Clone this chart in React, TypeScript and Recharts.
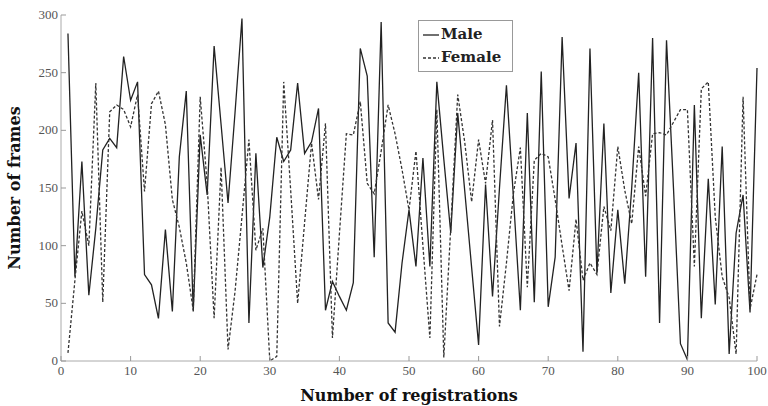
import { LineChart, Line, XAxis, YAxis } from "recharts";

const registrations = Array.from({ length: 100 }, (_, i) => i + 1);

const maleFrames = [
  284, 73, 173, 57, 115, 183, 193, 185, 264, 226,
  242, 75, 66, 37, 114, 43, 177, 234, 43, 196,
  144, 273, 205, 137, 215, 297, 33, 180, 81, 125,
  194, 173, 183, 241, 180, 190, 219, 44, 69, 56,
  44, 68, 271, 247, 90, 294, 33, 25, 85, 131,
  82, 176, 82, 242, 175, 111, 215, 148, 81, 14,
  153, 56, 150, 239, 142, 44, 215, 51, 251, 47,
  90, 281, 141, 189, 8, 271, 76, 206, 59, 131,
  67, 150, 250, 73, 280, 33, 278, 150, 15, 1,
  222, 37, 158, 49, 186, 6, 111, 144, 42, 254,
];

const femaleFrames = [
  7, 70, 130, 100, 241, 51, 216, 222, 218, 203,
  231, 147, 223, 234, 205, 140, 116, 85, 44, 229,
  154, 37, 168, 10, 60, 125, 192, 96, 115, 0,
  4, 242, 148, 50, 120, 189, 140, 206, 20, 110,
  197, 196, 225, 154, 145, 182, 222, 197, 166, 131,
  182, 100, 20, 218, 3, 116, 231, 190, 138, 192,
  154, 209, 30, 85, 145, 185, 64, 174, 180, 177,
  140, 100, 61, 123, 70, 85, 75, 134, 113, 186,
  148, 119, 186, 143, 197, 198, 196, 207, 218, 218,
  82, 236, 242, 125, 73, 55, 6, 229, 45, 75,
];

const xTicks = [0, 10, 20, 30, 40, 50, 60, 70, 80, 90, 100];
const yTicks = [0, 50, 100, 150, 200, 250, 300];

const data = registrations.map((r, i) => ({
  reg: r,
  male: maleFrames[i],
  female: femaleFrames[i],
}));

const serif = "'Liberation Serif', 'DejaVu Serif', serif";
const boldSerif = "'DejaVu Serif', serif";

const XTick = (props: any) => {
  const { x, y, payload } = props;
  return (
    <g>
      <line x1={x} y1={y} x2={x} y2={y - 5} stroke="#999" />
      <text x={x} y={y + 14} textAnchor="middle" fontFamily={serif} fontSize={13} fill="#555">
        {payload.value}
      </text>
    </g>
  );
};

const YTick = (props: any) => {
  const { x, y, payload } = props;
  return (
    <g>
      <line x1={x} y1={y} x2={x + 5} y2={y} stroke="#999" />
      <text x={x - 3} y={y + 4} textAnchor="end" fontFamily={serif} fontSize={13} fill="#555">
        {payload.value}
      </text>
    </g>
  );
};

// legend box drawn on top of the chart, like the matlab one
const LegendBox = () => (
  <div
    style={{
      position: "absolute",
      left: 418,
      top: 20,
      width: 95,
      height: 52,
      border: "1px solid #999",
      background: "#fff",
      boxSizing: "border-box",
      fontFamily: boldSerif,
      fontWeight: "bold",
      fontSize: 15,
      color: "#222",
      padding: "2px 0 0 4px",
      lineHeight: "23px",
    }}
  >
    <div style={{ display: "flex", alignItems: "center" }}>
      <svg width={16} height={10} style={{ marginRight: 2 }}>
        <line x1={0} y1={5} x2={16} y2={5} stroke="#222" strokeWidth={1.3} />
      </svg>
      Male
    </div>
    <div style={{ display: "flex", alignItems: "center" }}>
      <svg width={16} height={10} style={{ marginRight: 2 }}>
        <line x1={0} y1={5} x2={16} y2={5} stroke="#333" strokeWidth={1.3} strokeDasharray="3 2" />
      </svg>
      Female
    </div>
  </div>
);

export default function App() {
  return (
    <div style={{ position: "absolute", left: 0, top: 0, width: 768, height: 406, background: "#fff" }}>
      <LineChart width={768} height={406} data={data} margin={{ top: 15, right: 11, left: 0, bottom: 0 }}>
        <XAxis
          dataKey="reg"
          type="number"
          domain={[0, 100]}
          ticks={xTicks}
          interval={0}
          height={45}
          tickSize={0}
          tickMargin={0}
          tickLine={false}
          stroke="#aaa"
          tick={<XTick />}
          label={{
            value: "Number of registrations",
            position: "insideBottom",
            offset: 5,
            style: { fontFamily: boldSerif, fontWeight: "bold", fontSize: 16, fill: "#111" },
          }}
        />
        <YAxis
          type="number"
          domain={[0, 300]}
          ticks={yTicks}
          interval={0}
          width={61}
          tickSize={0}
          tickMargin={0}
          tickLine={false}
          stroke="#aaa"
          tick={<YTick />}
          label={{
            value: "Number of frames",
            angle: -90,
            position: "insideLeft",
            offset: 14,
            style: { textAnchor: "middle", fontFamily: boldSerif, fontWeight: "bold", fontSize: 16, fill: "#111" },
          }}
        />
        <Line
          type="linear"
          dataKey="male"
          name="Male"
          stroke="#222"
          strokeWidth={1.3}
          dot={false}
          isAnimationActive={false}
        />
        <Line
          type="linear"
          dataKey="female"
          name="Female"
          stroke="#333"
          strokeWidth={1.3}
          strokeDasharray="3 2"
          dot={false}
          isAnimationActive={false}
        />
      </LineChart>
      <LegendBox />
    </div>
  );
}
